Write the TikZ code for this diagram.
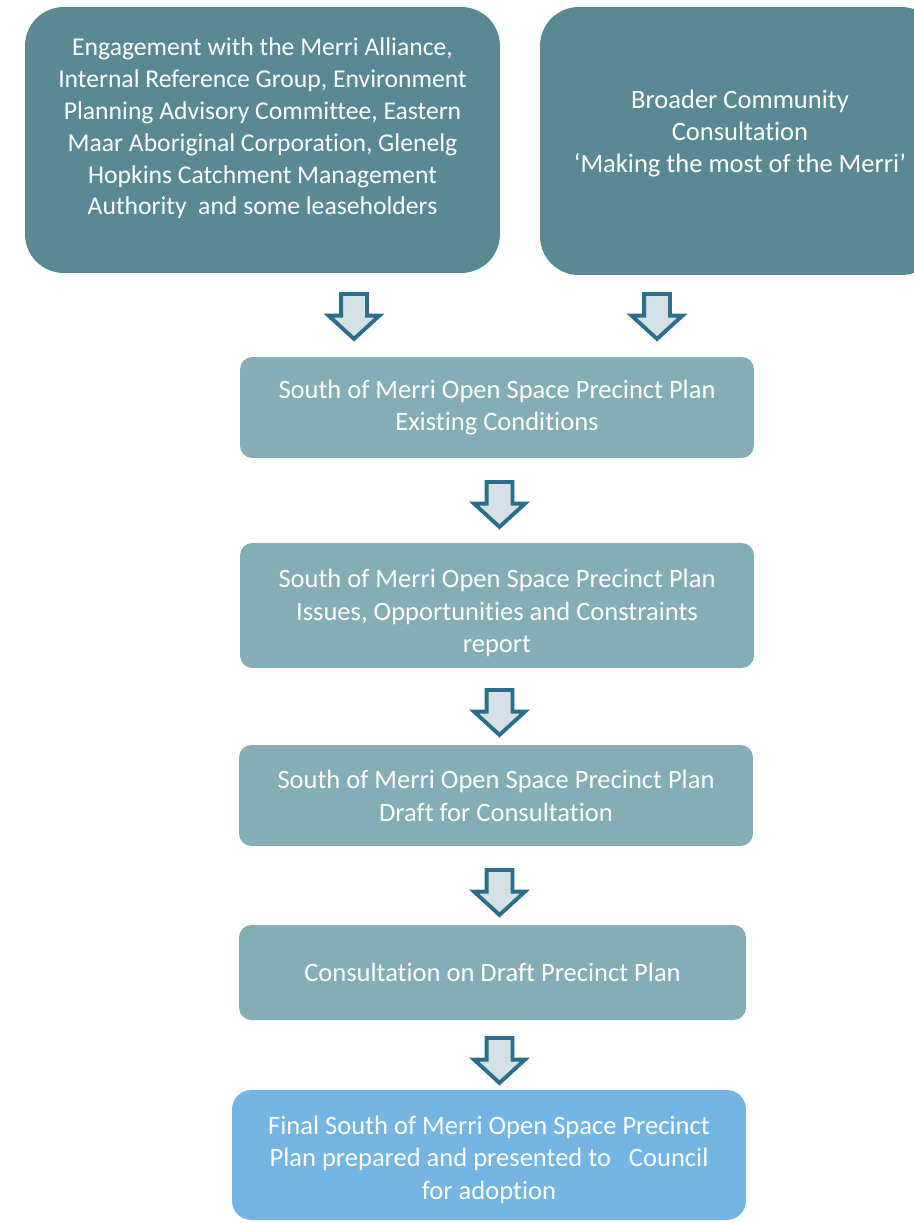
\documentclass[tikz,border=0pt]{standalone}
\usepackage{fontspec}
\setmainfont{Carlito}[Ligatures=NoCommon]
\definecolor{mrdark}{RGB}{90,137,149}
\definecolor{mrteal}{RGB}{133,173,181}
\definecolor{mrsky}{RGB}{116,181,227}
\definecolor{mrarrow}{RGB}{43,110,138}
\definecolor{mrarrowfill}{RGB}{211,224,229}
\usetikzlibrary{shapes.arrows}

\begin{document}
\begin{tikzpicture}[x=0.02cm, y=-0.02cm,
  every node/.style={font=\fontsize{15.1}{18.7}\selectfont, align=center,
                     text=white, inner sep=3pt},
  topbox/.style={fill=mrdark, rounded corners=22pt, font=\fontsize{14.6}{18.1}\selectfont},
  stagebox/.style={fill=mrteal, rounded corners=7pt, minimum width=10.28cm},
  downarrow/.style={single arrow, draw=mrarrow, fill=mrarrowfill, line width=2.2pt,
                    shape border rotate=270, minimum height=0.9cm,
                    single arrow head extend=0.25cm, single arrow tip angle=95,
                    inner sep=0.22cm, anchor=tail},
]
\useasboundingbox (0,0) rectangle (913,1223);

% === Consultation inputs (top row) ===
\node[topbox, minimum width=9.5cm, minimum height=5.32cm]
      (engage) at (262.5,140) {Engagement with the Merri Alliance,\\
      Internal Reference Group, Environment\\
      Planning Advisory Committee, Eastern\\
      Maar Aboriginal Corporation, Glenelg\\
      Hopkins Catchment Management\\
      Authority\ \ and some leaseholders\\[-2.7pt]\mbox{}};
\node[topbox, font=\fontsize{15.1}{18.1}\selectfont, minimum width=8cm, minimum height=5.36cm]
      (broad) at (740,141) {Broader Community\\Consultation\\‘Making the most of the Merri’\\[-7pt]\mbox{}};

% === Plan stages ===
\node[stagebox, minimum height=2.02cm]
      (exist) at (497,407.5) {South of Merri Open Space Precinct Plan\\Existing Conditions};
\node[stagebox, minimum height=2.5cm]
      (issues) at (497,605.5) {\rule{0pt}{19pt}South of Merri Open Space Precinct Plan\\Issues, Opportunities and Constraints\\report};
\node[stagebox, minimum height=2.02cm]
      (draft) at (496,795.5) {South of Merri Open Space Precinct Plan\\Draft for Consultation};
\node[stagebox, minimum width=10.14cm, minimum height=1.9cm]
      (consult) at (492.5,972.5) {Consultation on Draft Precinct Plan};
\node[stagebox, fill=mrsky, rounded corners=11pt, minimum height=2.6cm]
      (final) at (489,1155) {\rule{0pt}{16pt}Final South of Merri Open Space Precinct\\
      Plan prepared and presented to\ \ \ Council\\for adoption};

% === Block arrows ===
\node[downarrow] (a1) at (354,292) {};
\node[downarrow] (a2) at (657,292) {};
\node[downarrow] (a3) at (499.5,480) {};
\node[downarrow] (a4) at (499.5,688) {};
\node[downarrow] (a5) at (499.5,868) {};
\node[downarrow] (a6) at (499.5,1036) {};

\end{tikzpicture}
\end{document}
